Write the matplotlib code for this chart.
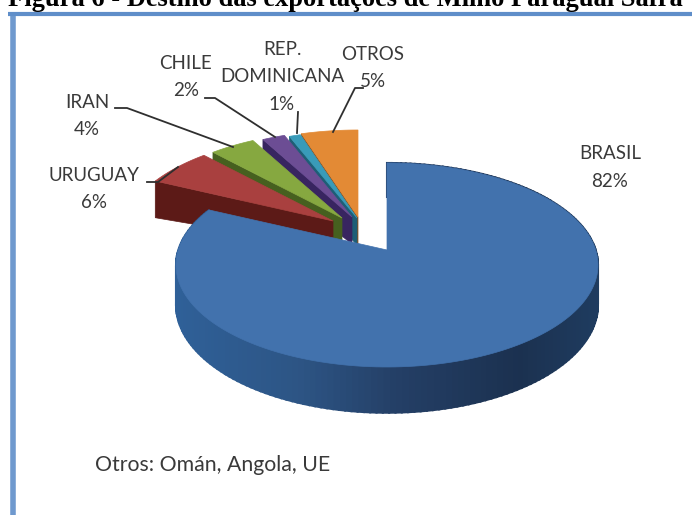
import numpy as np
import matplotlib
matplotlib.use("Agg")
import matplotlib.pyplot as plt

title = "Figura 6 - Destino das exportações de Milho Paraguai Safra"
note = "Otros: Omán, Angola, UE"
names = ["BRASIL", "URUGUAY", "IRAN", "CHILE", "REP.\nDOMINICANA", "OTROS"]
shares = [82, 6, 4, 2, 1, 5]
top_colors = ["#4272ad", "#a9403f", "#86a840", "#6c4d94", "#399bb9", "#e38a35"]
side_colors = ["#2b5285", "#5c1a17", "#46601f", "#382560", "#1e5e76", "#8c4f1c"]

# where each slice sits once exploded (pixels)
centers = [(387, 250), (333, 221), (342, 218), (352, 217), (357, 218), (358, 217)]
label_pos = [(610, 167.5), (94, 189), (87, 116), (186, 77), (282, 77), (373, 68)]
leaders = [
    None,
    [(147, 182), (158, 182), (178, 167)],
    [(115, 108), (127, 108), (233, 147)],
    [(205, 98), (215, 98), (275, 137)],
    [(298, 112), (297, 133)],
    [(363, 88), (355, 88), (333, 132)],
]

# perspective of the disc
K = 0.147
RX = 208.7
RY = 99.8
WALL = 39
APEX_WALL = 27

# wall colour of brasil from left to right
wall_x = [177, 300, 400, 520, 600]
wall_r = [0x2f, 0x2d, 0x24, 0x1b, 0x1f]
wall_g = [0x60, 0x55, 0x3f, 0x31, 0x3c]
wall_b = [0x98, 0x85, 0x66, 0x50, 0x60]


def project(frac, center):
    a = 2 * np.pi * np.asarray(frac)
    u, v = np.sin(a), np.cos(a)
    w = 1 + K * v
    return center[0] + RX * u / w, center[1] - RY * v / w, WALL / w


fig = plt.figure(figsize=(6.92, 5.16), dpi=100)
ax = fig.add_axes([0, 0, 1, 1])
ax.set_xlim(0, 692)
ax.set_ylim(516, 0)
ax.axis("off")

# frame
ax.plot([8, 692], [13.5, 13.5], color="#5f8ec9", lw=3, solid_capstyle="butt")
ax.plot([13, 13], [13, 515], color="#5f8ec9", lw=4, solid_capstyle="butt", alpha=0.9)

ends = np.cumsum(shares) / sum(shares)
starts = np.concatenate([[0], ends[:-1]])

# small slices first, right to left, brasil goes on top of them
for i in range(len(shares) - 1, 0, -1):
    cx, cy = centers[i]
    t = np.linspace(starts[i], ends[i], 30)
    x, y, d = project(t, centers[i])
    # cut face on the left side
    ax.fill([cx, x[0], x[0], cx], [cy, y[0], y[0] + d[0], cy + APEX_WALL],
            color=side_colors[i], lw=0.5, zorder=2 + (6 - i) * 2)
    ax.fill(np.r_[cx, x], np.r_[cy, y], color=top_colors[i], lw=0.5,
            zorder=3 + (6 - i) * 2)

# brasil wall, shaded along the arc
t = np.linspace(starts[0], ends[0], 200)
x, y, d = project(t, centers[0])
for j in range(len(t) - 1):
    col = (np.interp(x[j], wall_x, wall_r) / 255,
           np.interp(x[j], wall_x, wall_g) / 255,
           np.interp(x[j], wall_x, wall_b) / 255)
    ax.fill([x[j], x[j + 1], x[j + 1], x[j]],
            [y[j], y[j + 1], y[j + 1] + d[j + 1], y[j] + d[j]],
            color=col, lw=1.5, zorder=20)
ax.fill(np.r_[centers[0][0], x], np.r_[centers[0][1], y], color=top_colors[0],
        lw=0.5, zorder=21)

# labels
for i in range(len(shares)):
    ax.text(label_pos[i][0], label_pos[i][1], f"{names[i]}\n{shares[i]}%",
            family="Lato", fontsize=13.5, color="#3a3a3a", ha="center", va="center",
            linespacing=1.75, zorder=30)
    if leaders[i] is not None:
        lx, ly = zip(*leaders[i])
        ax.plot(lx, ly, color="#2f2f2f", lw=1.3, zorder=29)

ax.text(95, 465, note, family="Lato", fontsize=15.3, color="#3a3a3a", va="center")
ax.text(8, 6.5, title, family="Liberation Serif", fontweight="bold", fontsize=19.1,
        color="black", va="baseline")

fig.savefig("out.png", dpi=100)
